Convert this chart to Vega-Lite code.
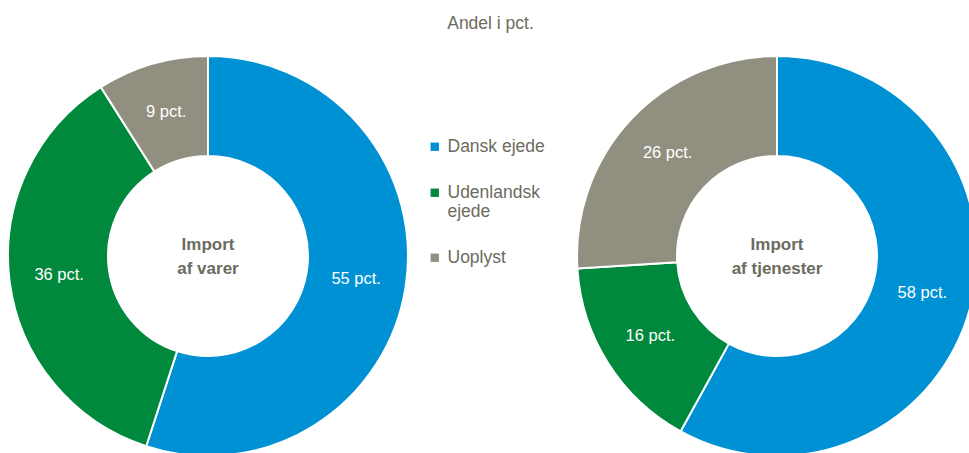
{
  "$schema": "https://vega.github.io/schema/vega-lite/v6.json",
  "padding": {"left": 0, "top": 14, "right": 0, "bottom": 0},
  "autosize": {"type": "pad"},
  "background": "white",
  "title": {"text": "Andel i pct.", "anchor": "middle", "fontSize": 17.5, "font": "Liberation Sans", "fontWeight": "normal", "color": "#6b6b5e", "offset": 20, "frame": "bounds"},
  "datasets": {
    "shares": [
      {"chart": "varer", "kategori": "Dansk ejede", "orden": 1, "andel": 55},
      {"chart": "varer", "kategori": "Udenlandsk ejede", "orden": 2, "andel": 36},
      {"chart": "varer", "kategori": "Uoplyst", "orden": 3, "andel": 9},
      {"chart": "tjenester", "kategori": "Dansk ejede", "orden": 1, "andel": 58},
      {"chart": "tjenester", "kategori": "Udenlandsk ejede", "orden": 2, "andel": 16},
      {"chart": "tjenester", "kategori": "Uoplyst", "orden": 3, "andel": 26}
    ],
    "centers": [
      {"chart": "varer", "label": "Import\naf varer"},
      {"chart": "tjenester", "label": "Import\naf tjenester"}
    ]
  },
  "config": {"view": {"stroke": null}, "concat": {"spacing": 157}},
  "hconcat": [
    {
      "width": 416,
      "height": 400,
      "layer": [
        {
          "data": {"name": "shares"},
          "transform": [{"filter": "datum.chart == 'varer'"}],
          "mark": {"type": "arc", "innerRadius": 100, "outerRadius": 200, "stroke": "white", "strokeWidth": 2},
          "encoding": {
            "theta": {"field": "andel", "type": "quantitative", "stack": true},
            "order": {"field": "orden", "type": "quantitative"},
            "color": {
              "field": "kategori", "type": "nominal",
              "scale": {"domain": ["Dansk ejede", "Udenlandsk ejede", "Uoplyst"], "range": ["#0091d5", "#00893c", "#918f80"]},
              "legend": {
                "title": null, "orient": "none", "legendX": 426, "legendY": 82,
                "symbolType": "square", "symbolSize": 70, "symbolStrokeWidth": 0,
                "labelFont": "Liberation Sans", "labelFontSize": 17.5, "labelColor": "#6b6b5e",
                "labelExpr": "datum.label == 'Udenlandsk ejede' ? ['Udenlandsk', 'ejede'] : datum.label",
                "rowPadding": 27, "labelOffset": 4, "labelLimit": 200,
                "encode": {"labels": {"update": {"lineHeight": {"value": 24}}}}
              }
            }
          }
        },
        {
          "data": {"name": "shares"},
          "transform": [{"filter": "datum.chart == 'varer'"}, {"calculate": "datum.andel + ' pct.'", "as": "txt"}],
          "mark": {"type": "text", "radius": 150, "color": "white", "fontSize": 16.5, "font": "Liberation Sans"},
          "encoding": {
            "theta": {"field": "andel", "type": "quantitative", "stack": true},
            "order": {"field": "orden", "type": "quantitative"},
            "text": {"field": "txt"}
          }
        },
        {
          "data": {"name": "centers"},
          "transform": [{"filter": "datum.chart == 'varer'"}],
          "mark": {"type": "text", "lineBreak": "\n", "fontSize": 17, "fontWeight": "bold", "color": "#6b6b5e", "font": "Liberation Sans", "lineHeight": 24, "dy": -11},
          "encoding": {"text": {"field": "label"}}
        }
      ]
    },
    {
      "width": 400,
      "height": 400,
      "layer": [
        {
          "data": {"name": "shares"},
          "transform": [{"filter": "datum.chart == 'tjenester'"}],
          "mark": {"type": "arc", "innerRadius": 100, "outerRadius": 200, "stroke": "white", "strokeWidth": 2},
          "encoding": {
            "theta": {"field": "andel", "type": "quantitative", "stack": true},
            "order": {"field": "orden", "type": "quantitative"},
            "color": {"field": "kategori", "type": "nominal"}
          }
        },
        {
          "data": {"name": "shares"},
          "transform": [{"filter": "datum.chart == 'tjenester'"}, {"calculate": "datum.andel + ' pct.'", "as": "txt"}],
          "mark": {"type": "text", "radius": 150, "color": "white", "fontSize": 16.5, "font": "Liberation Sans"},
          "encoding": {
            "theta": {"field": "andel", "type": "quantitative", "stack": true},
            "order": {"field": "orden", "type": "quantitative"},
            "text": {"field": "txt"}
          }
        },
        {
          "data": {"name": "centers"},
          "transform": [{"filter": "datum.chart == 'tjenester'"}],
          "mark": {"type": "text", "lineBreak": "\n", "fontSize": 17, "fontWeight": "bold", "color": "#6b6b5e", "font": "Liberation Sans", "lineHeight": 24, "dy": -11},
          "encoding": {"text": {"field": "label"}}
        }
      ]
    }
  ]
}
